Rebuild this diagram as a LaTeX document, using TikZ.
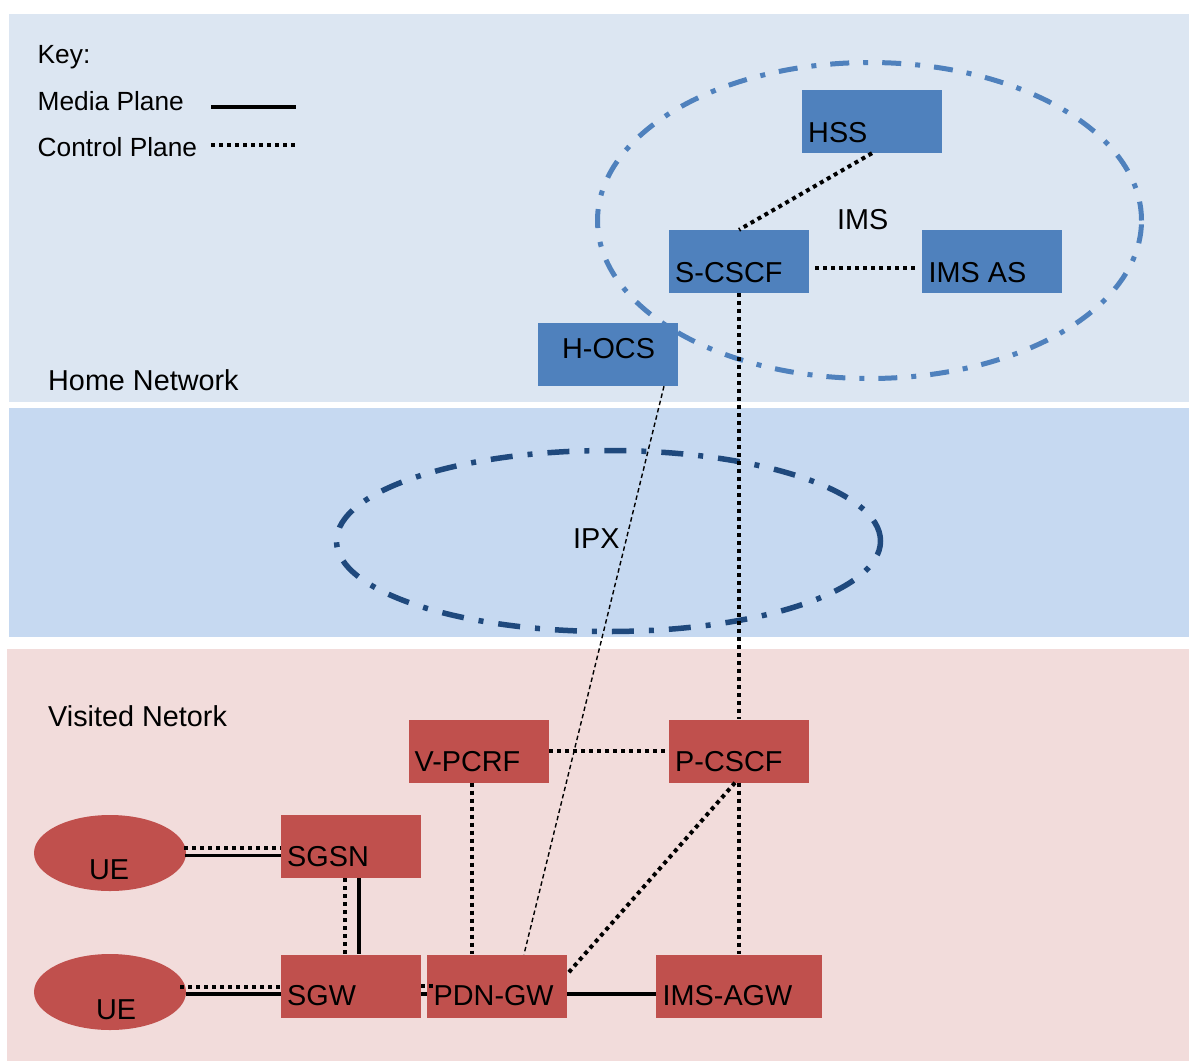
\documentclass[tikz,border=0pt]{standalone}
\usepackage{fontspec}
\setmainfont{Liberation Sans}
\usetikzlibrary{shapes.geometric}
\definecolor{bandtop}{HTML}{DCE6F2}
\definecolor{bandmid}{HTML}{C6D9F1}
\definecolor{bandbot}{HTML}{F2DCDB}
\definecolor{homeblue}{HTML}{4F81BD}
\definecolor{visred}{HTML}{C0504D}
\definecolor{ipxblue}{HTML}{1F497D}
\begin{document}
\begin{tikzpicture}[x=1pt,y=-1pt,
  box/.style={rectangle, minimum width=140pt, minimum height=63pt, inner sep=0pt, draw=none},
  hbox/.style={box, fill=homeblue},
  vbox/.style={box, fill=visred},
  uebox/.style={ellipse, minimum width=152pt, minimum height=76pt, inner sep=0pt, fill=visred},
  lbl/.style={inner sep=0pt, anchor=base west, font=\fontsize{28.8}{30}\selectfont},
  keylbl/.style={inner sep=0pt, anchor=base west, font=\fontsize{26.3}{28}\selectfont},
  ctrl/.style={line width=4pt, dash pattern=on 4pt off 4pt},
  media/.style={line width=3.8pt},
  thindash/.style={line width=1.4pt, dash pattern=on 4.5pt off 3pt},
  imsring/.style={ellipse, inner sep=0pt, draw=homeblue, line width=5pt, dash pattern=on 19pt off 14pt on 5pt off 14pt},
  ipxring/.style={ellipse, inner sep=0pt, draw=ipxblue, line width=5.5pt, dash pattern=on 22pt off 15pt on 5pt off 15pt},
]
\fill[white] (0,0) rectangle (1189,1061);
\useasboundingbox (0,0) rectangle (1189,1061);
% bands
\fill[bandtop] (9,14) rectangle (1189,401.5);
\fill[bandmid] (9,408) rectangle (1189,636.5);
\fill[bandbot] (7,649) rectangle (1189,1061);

% key
\node[keylbl] (tkey) at (37.5,63) {Key:};
\node[keylbl] (tmedia) at (37.5,110) {Media Plane};
\node[keylbl] (tctrl) at (37.5,156) {Control Plane};
\coordinate (km1) at (211,107.3);
\coordinate (km2) at (296,107.3);
\coordinate (kc1) at (211,145);
\coordinate (kc2) at (298,145);
\draw[media] (km1) -- (km2);
\draw[ctrl] (kc1) -- (kc2);

% boxes
\node[hbox] (hss) at (872,121.5) {};
\node[hbox] (scscf) at (739,261.5) {};
\node[hbox] (imsas) at (992,261.5) {};
\node[hbox] (hocs) at (607.5,354.5) {};
\node[vbox] (vpcrf) at (479,751) {};
\node[vbox] (pcscf) at (739,751) {};
\node[vbox] (sgsn) at (351,846.5) {};
\node[vbox] (sgw) at (351,986) {};
\node[vbox] (pdngw) at (497,986) {};
\node[vbox, minimum width=166pt] (imsagw) at (739,986) {};
\node[uebox] (ue1) at (110,853) {};
\node[uebox] (ue2) at (110,992) {};

% ellipses
\node[imsring, minimum width=544pt, minimum height=316pt] (ims) at (869.5,220.5) {};
\node[ipxring, minimum width=544pt, minimum height=181pt] (ipx) at (608.5,541) {};

% connectors
\draw[ctrl] (hss.south) -- (scscf.north);
\draw[ctrl] ([shift={(6,6.5)}]scscf.east) -- ([shift={(-3,6.5)}]imsas.west);
\draw[ctrl] (scscf.south) -- (pcscf.north);
\draw[thindash] ([xshift=56.5pt]hocs.south) -- ([xshift=27pt]pdngw.north);
\draw[ctrl] (vpcrf.east) -- (pcscf.west);
\draw[ctrl] ([xshift=-7pt]vpcrf.south) -- ([xshift=-25pt]pdngw.north);
\draw[ctrl] ([xshift=-4pt]pcscf.south) -- ([shift={(1,-13)}]pdngw.east);
\draw[ctrl] (pcscf.south) -- (imsagw.north);
\draw[media] ([shift={(0,8)}]pdngw.east) -- ([shift={(0,8)}]imsagw.west);
\draw[ctrl] ([shift={(-2,-5.5)}]ue1.east) -- ([shift={(0,1)}]sgsn.west);
\draw[media] ([shift={(-1,2.5)}]ue1.east) -- ([shift={(0,9)}]sgsn.west);
\draw[ctrl] ([shift={(-6,-5.3)}]ue2.east) -- ([shift={(0,0.7)}]sgw.west);
\draw[media] ([shift={(0,2)}]ue2.east) -- ([shift={(0,8)}]sgw.west);
\draw[ctrl] ([xshift=-5.7pt]sgsn.south) -- ([xshift=-5.7pt]sgw.north);
\draw[media] ([xshift=8pt]sgsn.south) -- ([xshift=8pt]sgw.north);
\draw[ctrl] ([shift={(0,0)}]sgw.east) -- ([shift={(7,0)}]pdngw.west);
\draw[media] ([shift={(0,8)}]sgw.east) -- ([shift={(0,8)}]pdngw.west);

% texts
\node[lbl] (thss) at (808,142) {HSS};
\node[lbl] (tscscf) at (675,282) {S-CSCF};
\node[lbl] (timsas) at (928.5,282) {IMS AS};
\node[lbl] (thocs) at (562,358) {H-OCS};
\node[lbl] (tims) at (837,229) {IMS};
\node[lbl] (thome) at (48,390) {Home Network};
\node[lbl] (tipx) at (573,548) {IPX};
\node[lbl] (tvisit) at (48,726) {Visited Netork};
\node[lbl] (tvpcrf) at (414.5,771) {V-PCRF};
\node[lbl] (tpcscf) at (675,771) {P-CSCF};
\node[lbl] (tsgsn) at (287,866) {SGSN};
\node[lbl] (tsgw) at (287,1005) {SGW};
\node[lbl] (tpdngw) at (433.5,1005) {PDN-GW};
\node[lbl] (timsagw) at (662.5,1005) {IMS-AGW};
\node[lbl] (tue1) at (89,879) {UE};
\node[lbl] (tue2) at (96,1019) {UE};
\end{tikzpicture}
\end{document}
